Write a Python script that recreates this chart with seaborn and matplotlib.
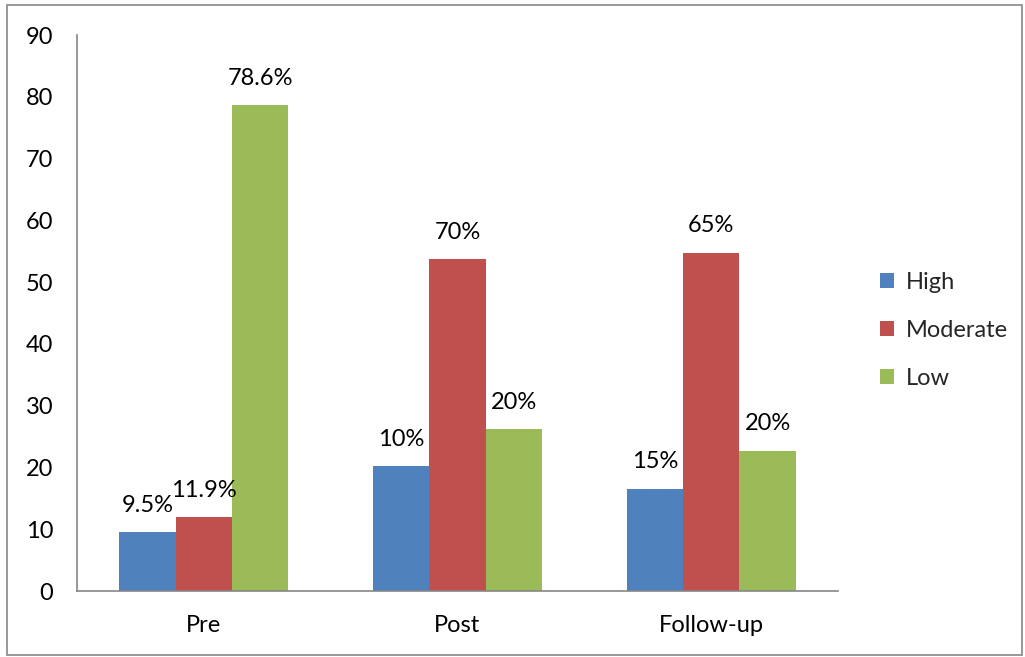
import matplotlib
matplotlib.use("Agg")
import matplotlib.pyplot as plt
import seaborn as sns
import pandas as pd
from matplotlib.patches import Rectangle

categories = ["Pre", "Post", "Follow-up"]
series = ["High", "Moderate", "Low"]
high = [9.5, 20.2, 16.5]
moderate = [11.9, 53.7, 54.7]
low = [78.6, 26.2, 22.7]
label_high = ["9.5%", "10%", "15%"]
label_moderate = ["11.9%", "70%", "65%"]
label_low = ["78.6%", "20%", "20%"]
yticks = [0, 10, 20, 30, 40, 50, 60, 70, 80, 90]
colors = ["#4F81BD", "#C0504D", "#9BBB59"]

rows = []
for s, vals in zip(series, [high, moderate, low]):
    for c, v in zip(categories, vals):
        rows.append({"Time": c, "Level": s, "Value": v})
df = pd.DataFrame(rows)

sns.set_theme(style="white")
plt.rcParams["font.family"] = ["Lato", "DejaVu Sans"]
FS = 17

fig = plt.figure(figsize=(10.25, 6.57), dpi=100)
ax = fig.add_axes([77 / 1025, 1 - 591 / 657, (838 - 77) / 1025, (591 - 35) / 657])

sns.barplot(data=df, x="Time", y="Value", hue="Level", order=categories,
            hue_order=series, palette=colors, width=0.667, gap=0,
            saturation=1, linewidth=0, ax=ax, errorbar=None)

for cont, labs in zip(ax.containers, [label_high, label_moderate, label_low]):
    for patch, lab in zip(cont.patches, labs):
        x = patch.get_x() + patch.get_width() / 2
        y = patch.get_height()
        ax.annotate(lab, (x, y), xytext=(0, 19.5), textcoords="offset points",
                    ha="center", va="center", fontsize=FS, color="black")

ax.set_xlim(-0.5, 2.5)
ax.set_ylim(0, 90)
ax.set_yticks(yticks)
ax.set_yticklabels([str(t) for t in yticks], fontsize=FS)
ax.set_xticks(range(len(categories)))
ax.set_xticklabels(categories, fontsize=FS)
ax.set_xticks([-0.5, 0.5, 1.5, 2.5], minor=True)
ax.tick_params(axis="x", which="major", length=0, pad=17, colors="black")
ax.tick_params(axis="x", which="minor", length=4, width=1.2, color="#868686", direction="out")
ax.tick_params(axis="y", length=4, width=1.2, color="#868686", direction="out", pad=13, labelcolor="black")
ax.set_xlabel("")
ax.set_ylabel("")
for side in ["top", "right"]:
    ax.spines[side].set_visible(False)
for side in ["left", "bottom"]:
    ax.spines[side].set_color("#868686")
    ax.spines[side].set_linewidth(1.2)

leg = ax.legend(title=None, frameon=False, fontsize=FS, loc="center left",
                bbox_to_anchor=(1.043, 0.469), handlelength=0.6, handleheight=0.6,
                handletextpad=0.5, labelspacing=1.15, borderaxespad=0)

fig.patches.append(Rectangle((7 / 1025, 1 - 655 / 657), 1015 / 1025, 650 / 657,
                             transform=fig.transFigure, fill=False,
                             edgecolor="#868686", linewidth=1.2))

fig.savefig("out.png", dpi=100)
